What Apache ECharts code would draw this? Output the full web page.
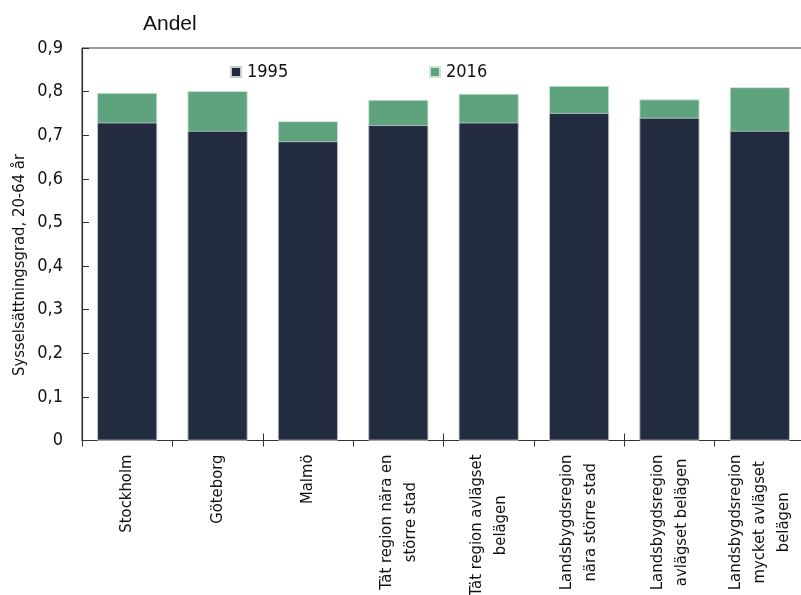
<!DOCTYPE html>
<html>
<head>
<meta charset="utf-8">
<script src="https://cdn.jsdelivr.net/npm/echarts@6/dist/echarts.min.js"></script>
<style>
html,body{margin:0;padding:0;background:#fff;}
#c{width:801px;height:595px;}
</style>
</head>
<body>
<div id="c"></div>
<script>
const categories = [
  'Stockholm',
  'Göteborg',
  'Malmö',
  'Tät region nära en\nstörre stad',
  'Tät region avlägset\nbelägen',
  'Landsbygdsregion\nnära större stad',
  'Landsbygdsregion\navlägset belägen',
  'Landsbygdsregion\nmycket avlägset\nbelägen'
];
const values1995 = [0.729, 0.710, 0.686, 0.723, 0.729, 0.751, 0.740, 0.710];
const values2016 = [0.797, 0.801, 0.732, 0.781, 0.795, 0.813, 0.782, 0.810];
const yTicks = [0, 0.1, 0.2, 0.3, 0.4, 0.5, 0.6, 0.7, 0.8, 0.9];

const FONT = "'DejaVu Sans Condensed', 'Liberation Sans Narrow', 'Arial Narrow', sans-serif";
const DARK = '#232c3f';
const GREEN = '#5ea37e';

const chart = echarts.init(document.getElementById('c'), null, {renderer: 'canvas'});
chart.setOption({
  animation: false,
  backgroundColor: '#fff',
  title: {
    text: 'Andel',
    left: 138,
    top: 9,
    textStyle: {fontFamily: "'Liberation Sans', Arial, sans-serif", fontSize: 21, fontWeight: 'normal', color: '#111'}
  },
  legend: [
    {data: ['1995'], left: 225, top: 58, itemWidth: 10, itemHeight: 10, icon: 'rect', itemGap: 0,
     textStyle: {fontFamily: FONT, fontSize: 18, color: '#111', padding: [0, 0, 0, 1]}},
    {data: ['2016'], left: 424, top: 58, itemWidth: 10, itemHeight: 10, icon: 'rect', itemGap: 0,
     textStyle: {fontFamily: FONT, fontSize: 18, color: '#111', padding: [0, 0, 0, 1]}}
  ],
  grid: {
    left: 82, right: -4, top: 48, bottom: 154.5,
    containLabel: false,
    outerBoundsMode: 'none',
    show: true, borderColor: '#333', borderWidth: 1, backgroundColor: 'transparent'
  },
  graphic: [{
    type: 'text',
    x: 20, y: 265,
    rotation: Math.PI / 2,
    style: {
      text: 'Sysselsättningsgrad, 20-64 år',
      font: "16.5px 'DejaVu Sans Condensed', 'Liberation Sans Narrow', sans-serif",
      fill: '#111',
      align: 'center',
      verticalAlign: 'middle'
    }
  }],
  xAxis: [{
    type: 'category',
    data: categories,
    axisLine: {show: true, lineStyle: {color: '#333', width: 1.2}},
    axisTick: {show: true, inside: false, length: 6, lineStyle: {color: '#333'}},
    axisLabel: {
      rotate: 90,
      interval: 0,
      margin: 14,
      fontFamily: FONT,
      fontSize: 16.5,
      color: '#111',
      lineHeight: 24,
      formatter: v => v.split('\n').map(s => '{c|' + s + '}').join('\n'),
      rich: {c: {align: 'center', fontFamily: FONT, fontSize: 16.5, color: '#111', lineHeight: 24}}
    }
  }, {
    type: 'category',
    data: categories,
    position: 'bottom',
    axisLine: {show: false},
    axisTick: {show: true, inside: true, length: 7, lineStyle: {color: '#333'}},
    axisLabel: {show: false}
  }],
  yAxis: {
    type: 'value',
    min: 0, max: 0.9, interval: 0.1,
    splitLine: {show: false},
    axisLine: {show: true, lineStyle: {color: '#333', width: 1.2}},
    axisTick: {show: true, inside: true, length: 7, lineStyle: {color: '#333'}},
    axisLabel: {
      margin: 19,
      fontFamily: FONT,
      fontSize: 18,
      color: '#111',
      formatter: v => {
        const t = yTicks.find(x => Math.abs(x - v) < 1e-9);
        const val = t === undefined ? v : t;
        return val === 0 ? '0' : val.toFixed(1).replace('.', ',');
      }
    }
  },
  series: [{
    name: '2016',
    type: 'bar',
    data: values2016,
    barWidth: 60,
    barGap: '-100%',
    itemStyle: {color: GREEN, borderColor: '#cfe3d6', borderWidth: 0.8}
  }, {
    name: '1995',
    type: 'bar',
    data: values1995,
    barWidth: 60,
    barGap: '-100%',
    itemStyle: {color: DARK, borderColor: '#c8ccd4', borderWidth: 0.8}
  }]
});
</script>
</body>
</html>
